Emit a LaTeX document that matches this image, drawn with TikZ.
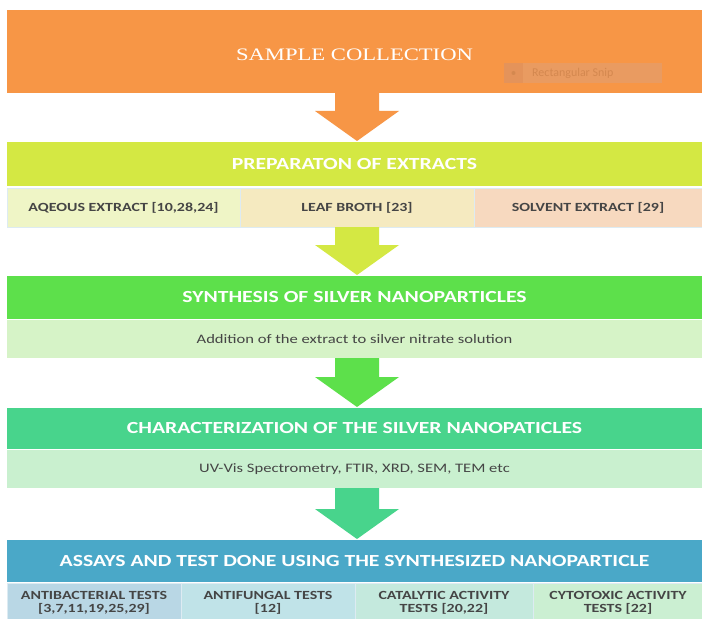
\documentclass[tikz,border=0pt]{standalone}
\usepackage{fontspec}
\setmainfont{Carlito}
\newfontfamily\serifrm{Liberation Serif}
\usetikzlibrary{calc}
\definecolor{cOrange}{HTML}{F79646}
\definecolor{cLime}{HTML}{D4E843}
\definecolor{cGreen}{HTML}{5DE04B}
\definecolor{cTeal}{HTML}{48D48C}
\definecolor{cBlue}{HTML}{4AA8C8}
\definecolor{cLimeA}{HTML}{EFF5C6}
\definecolor{cLimeB}{HTML}{F5EAC0}
\definecolor{cLimeC}{HTML}{F7D9BF}
\definecolor{cGreenL}{HTML}{D6F3C7}
\definecolor{cTealL}{HTML}{C9F0CF}
\definecolor{cBlueA}{HTML}{B9D7E5}
\definecolor{cBlueB}{HTML}{C0E3E8}
\definecolor{cBlueC}{HTML}{C4E9DD}
\definecolor{cBlueD}{HTML}{CBEFD2}
\definecolor{cSubText}{HTML}{454545}
\definecolor{cCellLine}{HTML}{DDEBF2}
\definecolor{cSnip}{HTML}{E99B61}
\definecolor{cSnipSq}{HTML}{E4935A}
\definecolor{cSnipTxt}{HTML}{D4884F}
\newcommand{\wx}[1]{\scalebox{1.28}[1]{#1}}
\newcommand{\twoline}[2]{\raisebox{-5bp}[0pt][0pt]{\wx{\begin{tabular}{@{}c@{}}#1\\#2\end{tabular}}}}
\tikzset{
  boxbase/.style={anchor=north west, inner sep=0pt, outer sep=0pt},
  bar/.style={boxbase, minimum width=695bp, text=white, font=\fontsize{17}{20}\selectfont\bfseries},
  subrow/.style={boxbase, minimum width=695bp, text=cSubText, font=\fontsize{13}{15}\selectfont},
  cell/.style={boxbase, draw=cCellLine, line width=0.8bp, text=cSubText, align=center,
    font=\fontsize{12.5}{12.7}\selectfont\bfseries},
}
\newcommand{\blockarrow}[3]{%
  \fill[#3] ($(ax |- #1.south)+(-22,0)$) -- ($(ax |- #1.south)+(22,0)$)
    -- ($(ax |- #2.north)+(22,-31)$) -- ($(ax |- #2.north)+(42,-31)$)
    -- ($(ax |- #2.north)+(0,-1)$) -- ($(ax |- #2.north)+(-42,-31)$)
    -- ($(ax |- #2.north)+(-22,-31)$) -- cycle;}
\begin{document}
\begin{tikzpicture}[x=1bp,y=-1bp]
\useasboundingbox (0,0) rectangle (702,619);
\fill[white] (0,0) rectangle (702,619);
\coordinate (ax) at (357,0);
% stage 1
\node[bar, fill=cOrange, minimum height=83bp, font=\fontsize{17.6}{20}\serifrm] (sample) at (7,10)
  {\raisebox{-9.5bp}[0pt][0pt]{\scalebox{1.29}[1]{SAMPLE COLLECTION}}};
\node[boxbase, fill=cSnip, minimum width=158bp, minimum height=20bp] (snip) at (504,63) {};
\node[boxbase, fill=cSnipSq, minimum width=19bp, minimum height=20bp] (snipsq) at (504,63) {};
\fill[cSnipTxt] (snipsq.center) circle (2bp);
\node[anchor=west, inner sep=0pt, text=cSnipTxt, font=\fontsize{12}{14}\selectfont] (sniptxt) at (532,73) {Rectangular Snip};
% stage 2
\node[bar, fill=cLime, minimum height=44bp] (prep) at (7,142) {\wx{PREPARATON OF EXTRACTS}};
\node[cell, fill=cLimeA, minimum width=233bp, minimum height=39bp] (aq) at (7,188) {\wx{AQEOUS EXTRACT [10,28,24]}};
\node[cell, fill=cLimeB, minimum width=234bp, minimum height=39bp] (leaf) at (240,188) {\wx{LEAF BROTH [23]}};
\node[cell, fill=cLimeC, minimum width=228bp, minimum height=39bp] (solv) at (474,188) {\wx{SOLVENT EXTRACT [29]}};
% stage 3
\node[bar, fill=cGreen, minimum height=43bp] (synth) at (7,276) {\wx{SYNTHESIS OF SILVER NANOPARTICLES}};
\node[subrow, fill=cGreenL, minimum height=38bp] (add) at (7,320) {\wx{Addition of the extract to silver nitrate solution}};
% stage 4
\node[bar, fill=cTeal, minimum height=41bp] (char) at (7,408) {\wx{CHARACTERIZATION OF THE SILVER NANOPATICLES}};
\node[subrow, fill=cTealL, minimum height=38bp] (uv) at (7,450) {\wx{UV-Vis Spectrometry, FTIR, XRD, SEM, TEM etc}};
% stage 5
\node[bar, fill=cBlue, minimum height=42bp] (assay) at (7,540) {\wx{ASSAYS AND TEST DONE USING THE SYNTHESIZED NANOPARTICLE}};
\node[cell, fill=cBlueA, minimum width=174bp, minimum height=37bp] (anti) at (7,583)
  {\twoline{ANTIBACTERIAL TESTS}{{}[3,7,11,19,25,29]}};
\node[cell, fill=cBlueB, minimum width=174bp, minimum height=37bp] (fung) at (181,583)
  {\twoline{ANTIFUNGAL TESTS}{{}[12]}};
\node[cell, fill=cBlueC, minimum width=178bp, minimum height=37bp] (cat) at (355,583)
  {\twoline{CATALYTIC ACTIVITY}{TESTS [20,22]}};
\node[cell, fill=cBlueD, minimum width=170bp, minimum height=37bp] (cyto) at (533,583)
  {\twoline{CYTOTOXIC ACTIVITY}{TESTS [22]}};
% arrows
\blockarrow{sample}{prep}{cOrange}
\blockarrow{leaf}{synth}{cLime}
\blockarrow{add}{char}{cGreen}
\blockarrow{uv}{assay}{cTeal}
\end{tikzpicture}
\end{document}
